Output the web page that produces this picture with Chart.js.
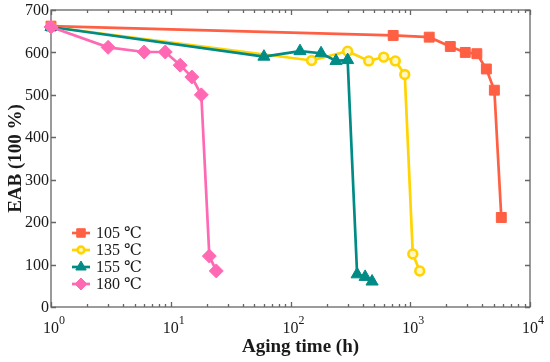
<!DOCTYPE html>
<html>
<head>
<meta charset="utf-8">
<script src="https://cdn.jsdelivr.net/npm/chart.js@4/dist/chart.umd.min.js"></script>
<style>
	body { margin: 0; background: #fff; }
	canvas { display: block; }
</style>
</head>
<body>
<canvas id="eabChart" width="550" height="362"></canvas>
<script>
// aging times in hours (time 0 is plotted at 1 on the log axis)
const labels = ['105 ℃', '135 ℃', '155 ℃', '180 ℃'];
const time105 = [1, 720, 1440, 2160, 2880, 3600, 4320, 5040, 5760];
const eab105 = [662, 640, 636, 614, 600, 597, 561, 511, 211];
const time135 = [1, 150, 300, 450, 600, 750, 900, 1050, 1200];
const eab135 = [660, 581, 603, 580, 589, 580, 548, 125, 85];
const time155 = [1, 60, 120, 180, 240, 300, 360, 420, 480];
const eab155 = [660, 590, 603, 598, 580, 582, 77, 71, 60];
const time180 = [1, 3, 6, 9, 12, 15, 18, 21, 24];
const eab180 = [660, 612, 601, 601, 570, 542, 500, 120, 85];
const yTicks = [0, 100, 200, 300, 400, 500, 600, 700];
const xDecades = [0, 1, 2, 3, 4];

const serif = "'Liberation Serif', 'DejaVu Serif', serif";

function pts(xs, ys) {
	return xs.map((x, i) => ({ x: x, y: ys[i] }));
}

function series(label, xs, ys, color, fill, style, radius, order) {
	return {
		label: label,
		data: pts(xs, ys),
		borderColor: color,
		backgroundColor: fill,
		pointBackgroundColor: fill,
		pointBorderColor: color,
		pointStyle: style,
		pointRadius: radius,
		pointBorderWidth: style === 'circle' ? 2.6 : 1,
		borderWidth: 2.7,
		tension: 0,
		order: order,
		clip: false,
	};
}

const frame = {
	id: 'frame',
	beforeDatasetsDraw(chart) {
		const ctx = chart.ctx;
		const a = chart.chartArea;
		const xs = chart.scales.x, ys = chart.scales.y;
		ctx.save();
		ctx.strokeStyle = '#666';
		ctx.lineWidth = 1.3;
		ctx.strokeRect(a.left, a.top, a.right - a.left, a.bottom - a.top);
		ctx.beginPath();
		// y ticks, inward on both sides
		yTicks.forEach(v => {
			const p = Math.round(ys.getPixelForValue(v)) + 0.5;
			ctx.moveTo(a.left, p); ctx.lineTo(a.left + 5, p);
			ctx.moveTo(a.right, p); ctx.lineTo(a.right - 5, p);
		});
		// x ticks, majors and minors
		xDecades.forEach(e => {
			for (let m = 1; m <= 9; m++) {
				if (e === 4 && m > 1) break;
				const p = Math.round(xs.getPixelForValue(m * Math.pow(10, e))) + 0.5;
				const len = m === 1 ? 5 : 3;
				ctx.moveTo(p, a.bottom); ctx.lineTo(p, a.bottom - len);
				ctx.moveTo(p, a.top); ctx.lineTo(p, a.top + len);
			}
		});
		ctx.stroke();

		ctx.fillStyle = '#1a1a1a';
		ctx.font = '16px ' + serif;
		ctx.textAlign = 'right';
		ctx.textBaseline = 'middle';
		yTicks.forEach(v => {
			ctx.fillText(String(v), a.left - 2, ys.getPixelForValue(v) + 1);
		});
		ctx.textBaseline = 'alphabetic';
		xDecades.forEach(e => {
			const p = xs.getPixelForValue(Math.pow(10, e));
			ctx.font = '16px ' + serif;
			const w = ctx.measureText('10').width;
			ctx.textAlign = 'left';
			ctx.fillText('10', p - w / 2, a.bottom + 26);
			ctx.font = '12px ' + serif;
			ctx.fillText(String(e), p + w / 2, a.bottom + 17);
		});

		ctx.font = 'bold 19px ' + serif;
		ctx.textAlign = 'center';
		ctx.fillText('Aging time (h)', (a.left + a.right) / 2 + 10, a.bottom + 45);
		ctx.translate(21, (a.top + a.bottom) / 2);
		ctx.rotate(-Math.PI / 2);
		ctx.fillText('EAB (100 %)', 0, 0);
		ctx.restore();
	},
	afterDraw(chart) {
		const ctx = chart.ctx;
		ctx.save();
		chart.data.datasets.forEach((ds, i) => {
			const y = 233 + i * 17;
			ctx.strokeStyle = ds.borderColor;
			ctx.lineWidth = 2.7;
			ctx.beginPath();
			ctx.moveTo(72, y); ctx.lineTo(90, y);
			ctx.stroke();
			ctx.fillStyle = ds.pointBackgroundColor;
			ctx.lineWidth = ds.pointBorderWidth;
			Chart.helpers.drawPoint(ctx, {
				pointStyle: ds.pointStyle,
				radius: ds.pointRadius - 1,
				rotation: 0,
				borderWidth: ds.pointBorderWidth,
			}, 81, y);
			ctx.fillStyle = '#1a1a1a';
			ctx.font = '16px ' + serif;
			ctx.textAlign = 'left';
			ctx.textBaseline = 'middle';
			ctx.fillText(ds.label, 96, y + 1);
		});
		ctx.restore();
	},
};

new Chart(document.getElementById('eabChart'), {
	type: 'line',
	data: {
		datasets: [
			series(labels[0], time105, eab105, '#ff5f43', '#ff5f43', 'rect', 7, 4),
			series(labels[1], time135, eab135, '#ffd400', '#fff6c0', 'circle', 4.4, 3),
			series(labels[2], time155, eab155, '#008b86', '#008b86', 'triangle', 7, 2),
			series(labels[3], time180, eab180, '#ff69b4', '#ff69b4', 'rectRot', 7, 1),
		],
	},
	options: {
		responsive: false,
		animation: false,
		layout: { padding: { top: 10, right: 20, left: 0, bottom: 0 } },
		plugins: { legend: { display: false }, tooltip: { enabled: false } },
		scales: {
			x: {
				type: 'logarithmic',
				min: 1,
				max: 10000,
				grid: { display: false },
				border: { display: false },
				ticks: { display: false },
				afterFit: s => { s.height = 55; },
			},
			y: {
				min: 0,
				max: 700,
				grid: { display: false },
				border: { display: false },
				ticks: { display: false },
				afterFit: s => { s.width = 51; },
			},
		},
	},
	plugins: [frame],
});
</script>
</body>
</html>
